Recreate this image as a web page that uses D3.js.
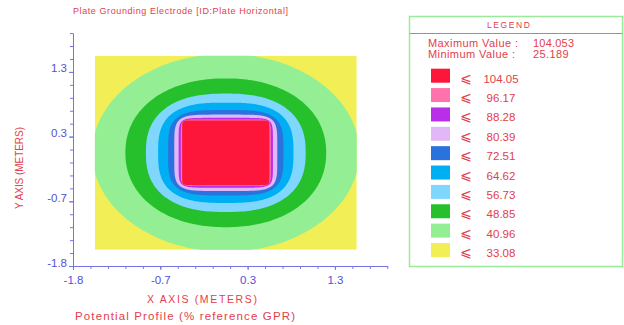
<!DOCTYPE html>
<html>
<head>
<meta charset="utf-8">
<script src="https://cdn.jsdelivr.net/npm/d3@7"></script>
<style>
  html, body { margin: 0; padding: 0; background: #fff; }
  svg { display: block; font-family: "Liberation Sans", Arial, sans-serif; }
</style>
</head>
<body>
<svg id="chart" width="624" height="325"></svg>
<script>
// Axis ticks (metres) and the labels printed under them
const xTickValues = [-1.75, -0.75, 0.25, 1.25];
const xTickLabels = ["-1.8", "-0.7", "0.3", "1.3"];
const yTickValues = [-1.75, -0.75, 0.25, 1.25];
const yTickLabels = ["-1.8", "-0.7", "0.3", "1.3"];

// Legend levels (% of reference GPR), highest first
const levels = [104.05, 96.17, 88.28, 80.39, 72.51, 64.62, 56.73, 48.85, 40.96, 33.08];
const levelColors = ["#fe163a", "#ff72ab", "#b92fe9", "#e2b7f8", "#2a72de",
                     "#00aef3", "#7fd7fd", "#25c02b", "#94ef94", "#f1ef55"];
const maxValue = "104.053";
const minValue = "25.189";

// Outer edge of each potential band around the plate (metres from centre)
// and how square that edge is (superellipse exponent); yellow fills the grid
const bandReach = [0.5, 0.515, 0.54, 0.59, 0.66, 0.775, 0.915, 1.15, 1.53];
const bandSquareness = [22, 12, 8, 5.5, 3.8, 2.9, 2.45, 2.15, 2.0];

// Computation grid extent (metres)
const gridX = [-1.5, 1.5];
const gridY = [-1.5, 1.5];

const svg = d3.select("#chart");
const red = "#e3404a";
const axisBlue = "#5252d6";

const x = d3.scaleLinear().domain([-1.75, 1.85]).range([73, 387.3]);
const y = d3.scaleLinear().domain([-1.75, 1.85]).range([266, 33.1]);

// clip to grid
svg.append("defs").append("clipPath").attr("id", "gridClip")
  .append("rect")
  .attr("x", x(gridX[0])).attr("y", y(gridY[1]))
  .attr("width", x(gridX[1]) - x(gridX[0]))
  .attr("height", y(gridY[0]) - y(gridY[1]));

const plot = svg.append("g").attr("clip-path", "url(#gridClip)");

// lowest band covers the whole grid
plot.append("rect")
  .attr("x", x(gridX[0])).attr("y", y(gridY[1]))
  .attr("width", x(gridX[1]) - x(gridX[0]))
  .attr("height", y(gridY[0]) - y(gridY[1]))
  .attr("fill", levelColors[levelColors.length - 1]);

function superellipse(a, n) {
  const pts = [];
  const N = 240;
  for (let i = 0; i < N; i++) {
    const t = (i / N) * 2 * Math.PI;
    const c = Math.cos(t), s = Math.sin(t);
    pts.push([
      a * Math.sign(c) * Math.pow(Math.abs(c), 2 / n),
      a * Math.sign(s) * Math.pow(Math.abs(s), 2 / n)
    ]);
  }
  return pts;
}

const line = d3.line().x(d => x(d[0])).y(d => y(d[1])).curve(d3.curveLinearClosed);

// paint from outside in
for (let i = bandReach.length - 1; i >= 0; i--) {
  plot.append("path")
    .attr("d", line(superellipse(bandReach[i], bandSquareness[i])))
    .attr("fill", levelColors[i]);
}

// axes
const axisG = svg.append("g");
const xMinor = d3.range(-1.75, 1.86, 0.2);
const yMinor = d3.range(-1.75, 1.86, 0.2);

axisG.append("g").attr("transform", `translate(0,${y(-1.75)})`)
  .call(d3.axisBottom(x).tickValues(xMinor).tickSize(3).tickSizeOuter(0).tickFormat(""));
axisG.append("g").attr("transform", `translate(0,${y(-1.75)})`)
  .call(d3.axisBottom(x).tickValues(xTickValues).tickSize(4).tickSizeOuter(0)
    .tickPadding(6).tickFormat((d, i) => xTickLabels[i]));

axisG.append("g").attr("transform", `translate(${x(-1.75)},0)`)
  .call(d3.axisLeft(y).tickValues(yMinor).tickSize(3).tickSizeOuter(0).tickFormat(""));
const gyMaj = axisG.append("g").attr("transform", `translate(${x(-1.75)},0)`)
  .call(d3.axisLeft(y).tickValues(yTickValues).tickSize(4).tickSizeOuter(0)
    .tickPadding(2).tickFormat((d, i) => yTickLabels[i]));

axisG.selectAll("path.domain").attr("stroke", "#7474e4").attr("stroke-width", 1);
axisG.selectAll(".tick line").attr("stroke", "#7474e4");
axisG.selectAll(".tick text").attr("fill", axisBlue)
  .style("font-family", "'Liberation Sans', Arial, sans-serif")
  .style("font-size", "11.5px");
gyMaj.selectAll(".tick text").attr("dy", "0");

// titles
function label(txt, xx, yy, size, len, anchor) {
  const t = svg.append("text").attr("x", xx).attr("y", yy)
    .attr("fill", red).style("font-size", size + "px")
    .attr("text-anchor", anchor || "start").text(txt);
  if (len) t.attr("textLength", len).attr("lengthAdjust", "spacing");
  return t;
}

label("Plate Grounding Electrode [ID:Plate Horizontal]", 73, 14, 9, 215);
label("X AXIS  (METERS)", 147, 302.5, 10.5, 110);
label("Potential Profile (% reference GPR)", 75, 320, 11.5, 220);
svg.append("text")
  .attr("transform", "translate(23,168) rotate(-90)")
  .attr("text-anchor", "middle")
  .attr("fill", red).style("font-size", "10px")
  .attr("textLength", 82).attr("lengthAdjust", "spacing")
  .text("Y AXIS (METERS)");

// legend
const lg = svg.append("g");
lg.append("rect").attr("x", 409.5).attr("y", 16.5).attr("width", 213).attr("height", 250)
  .attr("fill", "#fff").attr("stroke", "#9be99b").attr("stroke-width", 1.5);
lg.append("line").attr("x1", 410).attr("x2", 622).attr("y1", 33.5).attr("y2", 33.5)
  .attr("stroke", "#8a8ae0").attr("stroke-width", 1);
label("LEGEND", 487, 27.5, 8.5, 43);
label("Maximum Value :", 428, 46.5, 11, 90);
label(maxValue, 533, 46.5, 11, 41);
label("Minimum Value :", 428, 58, 11, 87);
label(minValue, 533, 58, 11, 35.5);

const rowY = d3.scaleLinear().domain([0, levels.length - 1]).range([68.7, 243]);
levels.forEach((v, i) => {
  const top = rowY(i);
  lg.append("rect").attr("x", 431).attr("y", top).attr("width", 19).attr("height", 14)
    .attr("fill", levelColors[i]);
  lg.append("text").attr("x", 466).attr("y", top + 14).attr("text-anchor", "middle")
    .attr("fill", red).style("font-family", "'DejaVu Sans', sans-serif")
    .style("font-size", "14px").text("\u2A7D");
  lg.append("text").attr("x", 501).attr("y", top + 14).attr("text-anchor", "middle")
    .attr("fill", red).style("font-size", "11.5px").text(v.toFixed(2));
});
</script>
</body>
</html>
